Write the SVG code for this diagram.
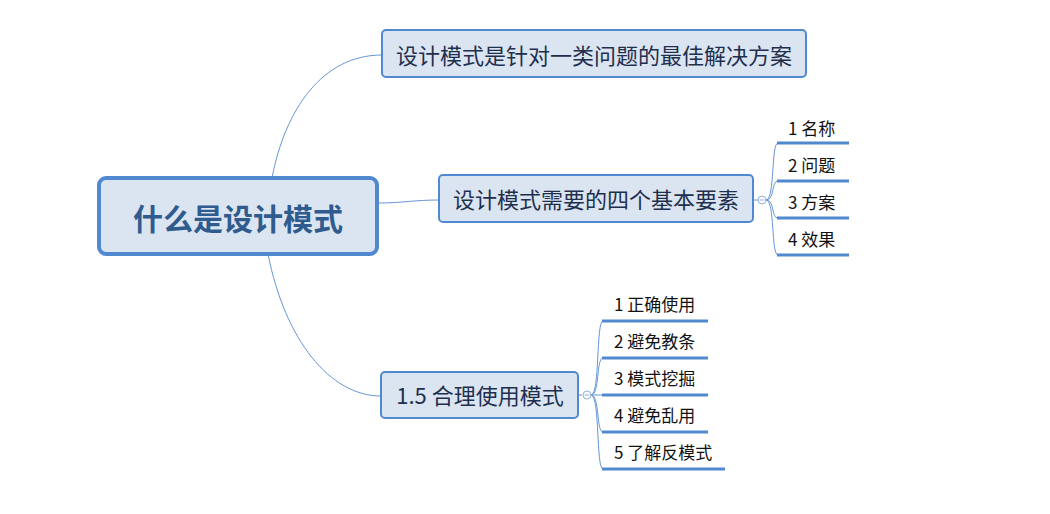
<svg xmlns="http://www.w3.org/2000/svg" width="1050" height="514" viewBox="0 0 1050 514">
<style>
.node{fill:#dbe5f1;stroke:#5189d0;stroke-width:2}
.t{font-family:"Microsoft YaHei","Noto Sans CJK SC","Noto Sans",sans-serif;fill:#1f2f4e;font-size:22px;text-anchor:middle}
.c{font-family:"Microsoft YaHei","Noto Sans CJK SC","Noto Sans",sans-serif;fill:#111;font-size:17px}
.ln{fill:none;stroke:#6696d6;stroke-width:1}
.ul{fill:none;stroke:#5189d0;stroke-width:3}
.col{fill:#fff;stroke:#8fb2e0;stroke-width:1}
</style>
<rect width="1050" height="514" fill="#fff"/>
<g id="connectors">
<path class="ln" d="M272,178 C285,110 322,55 382,55"/>
<path class="ln" d="M378,203 C402,203 414,200 439,200"/>
<path class="ln" d="M268,254 C285,340 330,396 381,396"/>
<path class="ln" d="M753,200 L758,200"/>
<path class="ln" d="M766,200 C775,200 771,143 778,143"/>
<path class="ln" d="M766,200 C775,200 771,181 778,181"/>
<path class="ln" d="M766,200 C775,200 771,218 778,218"/>
<path class="ln" d="M766,200 C775,200 771,255 778,255"/>
<path class="ln" d="M578,395 L582,395"/>
<path class="ln" d="M591,395 C600,395 596,321 603,321"/>
<path class="ln" d="M591,395 C600,395 596,358 603,358"/>
<path class="ln" d="M591,395 L603,395"/>
<path class="ln" d="M591,395 C600,395 596,432 603,432"/>
<path class="ln" d="M591,395 C600,395 596,469 603,469"/>
</g>
<g id="root">
<rect x="99" y="178" width="278" height="76" rx="7" fill="#dbe5f1" stroke="#5189d0" stroke-width="4"/>
<text x="238" y="230" font-family="'Microsoft YaHei','Noto Sans CJK SC','Noto Sans',sans-serif" font-size="30" font-weight="bold" fill="#2f5b8e" text-anchor="middle">什么是设计模式</text>
</g>
<g id="n1">
<rect class="node" x="382" y="30" width="424" height="47" rx="4"/>
<text class="t" x="594" y="64">设计模式是针对一类问题的最佳解决方案</text>
</g>
<g id="n2">
<rect class="node" x="439" y="175" width="314" height="47" rx="4"/>
<text class="t" x="596" y="208">设计模式需要的四个基本要素</text>
<circle class="col" cx="762" cy="200" r="4"/>
<line x1="759.5" y1="200" x2="764.5" y2="200" stroke="#8fb2e0" stroke-width="1"/>
</g>
<g id="n2c1"><text class="c" x="788" y="135">1 名称</text><path class="ul" d="M777,143 L849,143"/></g>
<g id="n2c2"><text class="c" x="788" y="172">2 问题</text><path class="ul" d="M777,181 L849,181"/></g>
<g id="n2c3"><text class="c" x="788" y="209">3 方案</text><path class="ul" d="M777,218 L849,218"/></g>
<g id="n2c4"><text class="c" x="788" y="246">4 效果</text><path class="ul" d="M777,255 L849,255"/></g>
<g id="n3">
<rect class="node" x="381" y="372" width="197" height="46" rx="4"/>
<text class="t" x="480" y="404">1.5 合理使用模式</text>
<circle class="col" cx="587" cy="395" r="4"/>
<line x1="584.5" y1="395" x2="589.5" y2="395" stroke="#8fb2e0" stroke-width="1"/>
</g>
<g id="n3c1"><text class="c" x="614" y="311">1 正确使用</text><path class="ul" d="M602,321 L708,321"/></g>
<g id="n3c2"><text class="c" x="614" y="348">2 避免教条</text><path class="ul" d="M602,358 L708,358"/></g>
<g id="n3c3"><text class="c" x="614" y="385">3 模式挖掘</text><path class="ul" d="M602,395 L708,395"/></g>
<g id="n3c4"><text class="c" x="614" y="422">4 避免乱用</text><path class="ul" d="M602,432 L708,432"/></g>
<g id="n3c5"><text class="c" x="614" y="459">5 了解反模式</text><path class="ul" d="M602,469 L725,469"/></g>
</svg>
